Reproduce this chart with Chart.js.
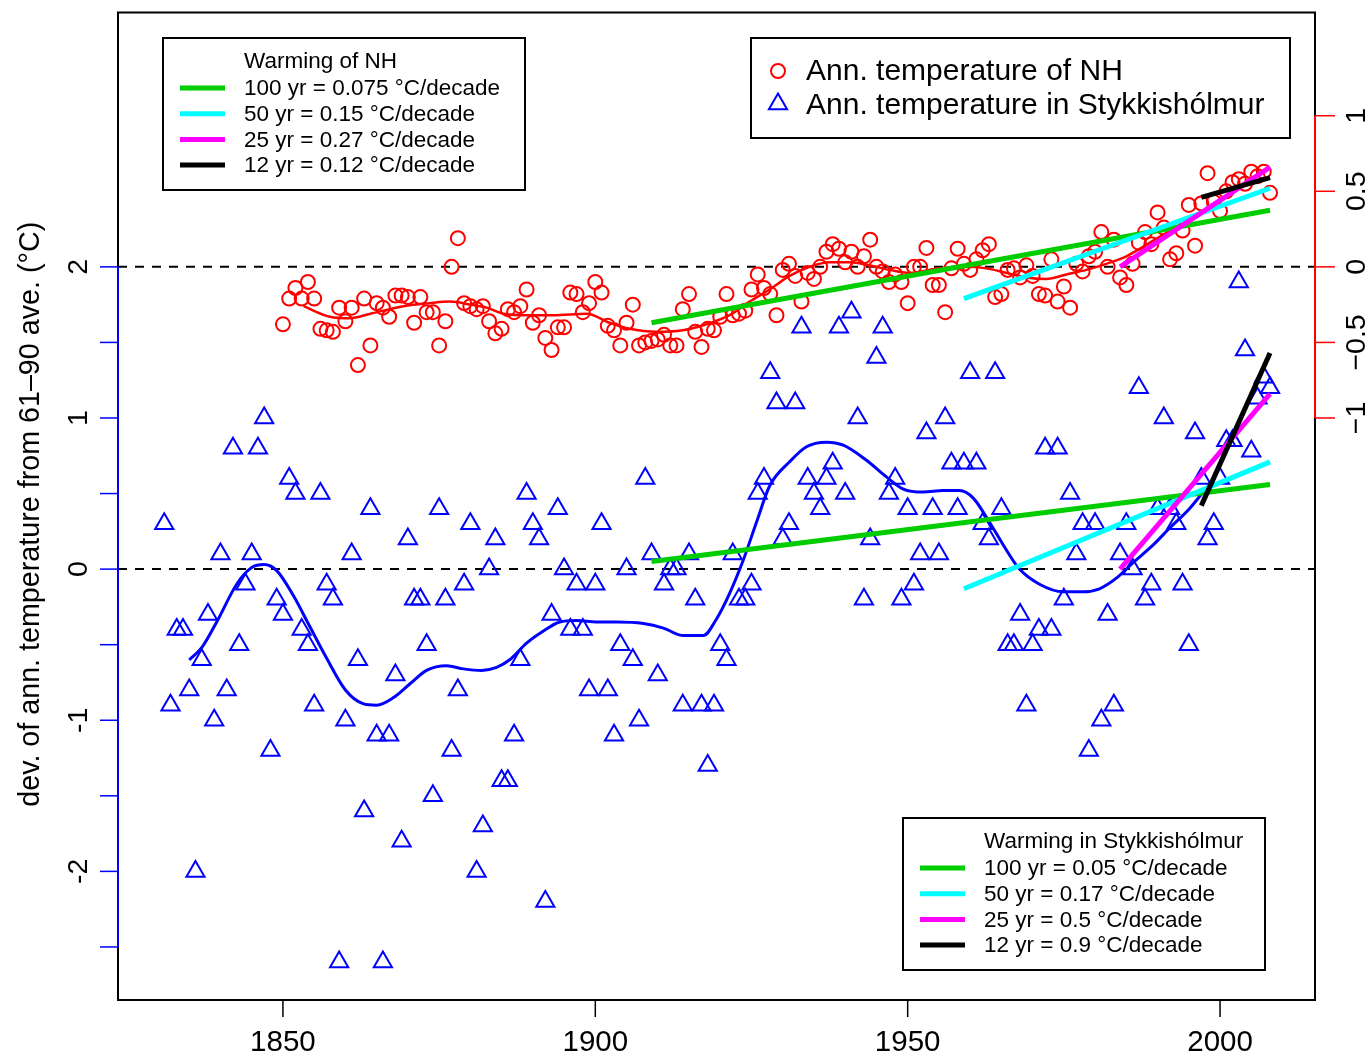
<!DOCTYPE html>
<html><head><meta charset="utf-8">
<script src="https://cdn.jsdelivr.net/npm/chart.js@4"></script>
<style>html,body{margin:0;padding:0;background:#fff}</style>
</head><body>
<canvas id="c" width="1370" height="1058"></canvas>
<script>
// ---------------- DATA ----------------
const nhStartYear = 1850;
const nhValues = [
 -0.38,-0.21,-0.14,-0.21,-0.10,-0.21,-0.41,-0.42,-0.43,-0.27,
 -0.36,-0.27,-0.65,-0.21,-0.52,-0.24,-0.27,-0.33,-0.19,-0.19,
 -0.20,-0.37,-0.20,-0.30,-0.30,-0.52,-0.36,0.00,0.19,-0.24,
 -0.26,-0.28,-0.26,-0.36,-0.44,-0.41,-0.28,-0.30,-0.26,-0.15,
 -0.37,-0.32,-0.47,-0.55,-0.40,-0.40,-0.17,-0.18,-0.30,-0.24,
 -0.10,-0.17,-0.39,-0.42,-0.52,-0.37,-0.25,-0.52,-0.50,-0.49,
 -0.48,-0.45,-0.52,-0.52,-0.28,-0.18,-0.43,-0.53,-0.41,-0.42,
 -0.33,-0.18,-0.32,-0.31,-0.29,-0.15,-0.05,-0.14,-0.18,-0.32,
 -0.02,0.02,-0.06,-0.23,-0.04,-0.08,0.00,0.10,0.15,0.12,
 0.03,0.10,0.00,0.07,0.18,0.00,-0.03,-0.10,-0.05,-0.10,
 -0.24,0.00,0.00,0.125,-0.12,-0.12,-0.30,-0.01,0.12,0.02,
 -0.02,0.05,0.11,0.15,-0.20,-0.18,-0.02,-0.01,-0.07,0.01,
 -0.06,-0.18,-0.19,0.05,-0.23,-0.13,-0.27,0.02,-0.03,0.07,
 0.10,0.23,0.00,0.18,-0.07,-0.12,0.02,0.16,0.23,0.15,
 0.36,0.26,0.05,0.09,0.24,0.41,0.14,0.42,0.62,0.43,
 0.37,0.50,0.56,0.58,0.55,0.63,0.60,0.63,0.49
];
const styStartYear = 1831;
const styValues = [
 0.3,-0.9,-0.4,-0.4,-0.8,-2.0,-0.6,-0.3,-1.0,
 0.1,-0.8,0.8,-0.5,-0.1,0.1,0.8,1.0,-1.2,-0.2,
 -0.3,0.6,0.5,-0.4,-0.5,-0.9,0.5,-0.1,-0.2,-2.6,
 -1.0,0.1,-0.6,-1.6,0.4,-1.1,-2.6,-1.1,-0.7,-1.8,
 0.2,-0.2,-0.2,-0.5,-1.5,0.4,-0.2,-1.2,-0.8,-0.1,
 0.3,-2.0,-1.7,0.0,0.2,-1.4,-1.4,-1.1,-0.6,0.5,
 0.3,0.2,-2.2,-0.3,0.4,0.0,-0.4,-0.1,-0.4,-0.8,
 -0.1,0.3,-0.8,-1.1,-0.5,0.0,-0.6,-1.0,0.6,0.1,
 -0.7,-0.1,0.0,0.0,-0.9,0.1,-0.2,-0.9,-1.3,-0.9,
 -0.5,-0.6,0.1,-0.2,-0.2,-0.1,0.5,0.6,1.3,1.1,
 0.2,0.3,1.1,1.6,0.6,0.5,0.4,0.6,0.7,1.6,
 0.5,1.7,1.0,-0.2,0.2,1.4,1.6,0.5,0.6,-0.2,
 0.4,-0.1,0.1,0.9,0.4,0.1,1.0,0.7,0.4,0.7,
 1.3,0.7,0.3,0.2,1.3,0.4,-0.5,-0.5,-0.3,-0.9,
 -0.5,-0.4,0.8,-0.4,0.8,-0.2,0.5,0.1,0.3,-1.2,
 0.3,-1.0,-0.3,-0.9,0.1,0.3,0.0,1.2,-0.2,-0.1,
 0.4,1.0,0.4,0.3,-0.1,-0.5,0.9,0.6,0.2,0.3,
 0.6,0.85,0.85,1.9,1.45,0.78,1.13,1.27,1.2
];
const nhSmoothYears = [1853.3,1857.5,1860.7,1864,1869.3,1873.5,1876.7,1880,1882.6,1885.3,1889.5,1893.3,1898.6,1902.3,1905.5,1909.8,1914,1917.8,1921.5,1924.7,1927.9,1931.1,1934.3,1937.5,1940.7,1943.9,1947.1,1950.3,1955.1,1959.4,1962.6,1965.8,1969,1972.2,1975.4,1978.6,1981.8,1985,1990,1995,2000,2004];
const nhSmoothValues = [-0.26,-0.33,-0.34,-0.31,-0.26,-0.24,-0.23,-0.25,-0.27,-0.31,-0.32,-0.32,-0.31,-0.37,-0.41,-0.43,-0.42,-0.38,-0.32,-0.23,-0.15,-0.06,0.00,0.03,0.03,0.01,-0.02,-0.04,-0.01,0.00,-0.01,-0.04,-0.07,-0.08,-0.05,-0.02,0.02,0.07,0.19,0.31,0.44,0.54];
const stySmoothYears = [1835,1837,1839.4,1842.6,1845,1847,1849,1851.6,1854.3,1857,1860,1862.8,1865,1867.7,1870.3,1873,1876.2,1878.9,1881.8,1884.2,1886.3,1889,1891.7,1894.3,1897,1900.2,1903.5,1907.7,1910.9,1914.1,1917.3,1919.4,1921.5,1923.6,1925.8,1927.9,1931.1,1933.8,1937,1939.7,1943.4,1946.6,1949.3,1952.5,1955.7,1958.3,1960.5,1963.1,1965.3,1967.9,1971.1,1974.9,1978.1,1980.7,1983.4,1986,1989.3,1991.9,1995.1,1997.3];
const stySmoothValues = [-0.60,-0.52,-0.35,-0.10,0.01,0.03,-0.01,-0.17,-0.38,-0.59,-0.80,-0.89,-0.90,-0.85,-0.76,-0.67,-0.64,-0.66,-0.67,-0.65,-0.60,-0.49,-0.41,-0.35,-0.34,-0.35,-0.35,-0.36,-0.39,-0.44,-0.44,-0.33,-0.16,0.05,0.31,0.55,0.71,0.81,0.84,0.82,0.72,0.61,0.53,0.51,0.52,0.52,0.47,0.31,0.16,0.00,-0.10,-0.15,-0.15,-0.13,-0.06,0.04,0.16,0.27,0.40,0.51];
// trend lines: order 100, 50, 25, 12 yr
const trendColors = ['#00CD00','#00FFFF','#FF00FF','#000000'];
const trendStartYears = [1909,1959,1984,1997];
const trendEndYear = 2008;
const nhTrendStartValues = [-0.37,-0.21,0.00,0.46];
const nhTrendEndValues = [0.375,0.52,0.66,0.59];
const styTrendStartValues = [0.05,-0.13,0.00,0.42];
const styTrendEndValues = [0.56,0.71,1.16,1.43];
const nhLegendTitle = 'Warming of NH';
const nhLegendLabels = ['100 yr = 0.075 °C/decade','50 yr = 0.15 °C/decade','25 yr = 0.27 °C/decade','12 yr = 0.12 °C/decade'];
const styLegendTitle = 'Warming in Stykkishólmur';
const styLegendLabels = ['100 yr = 0.05 °C/decade','50 yr = 0.17 °C/decade','25 yr = 0.5 °C/decade','12 yr = 0.9 °C/decade'];
const seriesLabels = ['Ann. temperature of NH','Ann. temperature in Stykkishólmur'];
const xTicks = [1850,1900,1950,2000];
const leftTicks = [-2.5,-2,-1.5,-1,-0.5,0,0.5,1,1.5,2];
const leftTickLabels = ['','-2','','-1','','0','','1','','2'];
const rightTicks = [-1,-0.5,0,0.5,1];
const rightTickLabels = ['−1','−0.5','0','0.5','1'];
const yTitle = 'dev. of ann. temperature from 61–90 ave. (°C)';
const refZeroLevels = [0];

// ---------------- CHART ----------------
const X_MIN = 1823.6, X_MAX = 2015.2, Y_MIN = -2.851, Y_MAX = 3.683, NH_SHIFT = 2;
const FONT = "'Liberation Sans', Arial, Helvetica, sans-serif";

function seg(years, vals){ return years.map((yr,i)=>({x:yr, y:vals[i]})); }
function trendSet(startVals, endVals, axis){
  const out = [];
  for (let i = 3; i >= 0; i--) {
    out.push({data:[{x:trendStartYears[i],y:startVals[i]},{x:trendEndYear,y:endVals[i]}],
      yAxisID:axis, showLine:true, borderColor:trendColors[i], borderWidth:5, pointRadius:0, borderCapStyle:'butt'});
  }
  return out;
}
const datasets = [
  ...trendSet(nhTrendStartValues, nhTrendEndValues, 'yR'),
  ...trendSet(styTrendStartValues, styTrendEndValues, 'y'),
  {data:seg(nhSmoothYears,nhSmoothValues), yAxisID:'yR', showLine:true, borderColor:'#FF0000', borderWidth:2.5, pointRadius:0, cubicInterpolationMode:'monotone'},
  {data:seg(stySmoothYears,stySmoothValues), yAxisID:'y', showLine:true, borderColor:'#0000FF', borderWidth:3, pointRadius:0, cubicInterpolationMode:'monotone'},
  {data:nhValues.map((v,i)=>({x:nhStartYear+i,y:v})), yAxisID:'yR', showLine:false, pointStyle:'circle', pointRadius:7, pointBorderWidth:2, pointBorderColor:'#FF0000', pointBackgroundColor:'rgba(0,0,0,0)'},
  {data:styValues.map((v,i)=>({x:styStartYear+i,y:v})), yAxisID:'y', showLine:false, pointStyle:'triangle', pointRadius:10.5, pointBorderWidth:2, pointBorderColor:'#0000FF', pointBackgroundColor:'rgba(0,0,0,0)'},
  {data:refZeroLevels.flatMap(v=>[{x:X_MIN,y:v},{x:X_MAX,y:v}]), yAxisID:'y', showLine:true, borderColor:'#000', borderWidth:2, borderDash:[9,8], pointRadius:0},
  {data:refZeroLevels.flatMap(v=>[{x:X_MIN,y:v},{x:X_MAX,y:v}]), yAxisID:'yR', showLine:true, borderColor:'#000', borderWidth:2, borderDash:[9,8], pointRadius:0}
];

const decorPlugin = {
  id:'decor',
  afterDraw(chart){
    const {ctx, chartArea:a, scales:{x, y, yR}} = chart;
    ctx.save();
    // frame
    ctx.strokeStyle = '#000'; ctx.lineWidth = 2;
    ctx.strokeRect(a.left, a.top, a.right-a.left, a.bottom-a.top);
    // left axis (blue)
    ctx.strokeStyle = '#0000FF'; ctx.lineWidth = 2;
    ctx.beginPath();
    ctx.moveTo(a.left, y.getPixelForValue(leftTicks[0]));
    ctx.lineTo(a.left, y.getPixelForValue(leftTicks[leftTicks.length-1]));
    ctx.stroke();
    ctx.lineWidth = 1.5;
    leftTicks.forEach(t=>{const p=y.getPixelForValue(t);ctx.beginPath();ctx.moveTo(a.left,p);ctx.lineTo(a.left-18,p);ctx.stroke();});
    ctx.fillStyle = '#000'; ctx.font = '28.5px '+FONT; ctx.textAlign='center'; ctx.textBaseline='middle';
    leftTicks.forEach((t,i)=>{ if(!leftTickLabels[i]) return; const p=y.getPixelForValue(t);
      ctx.save(); ctx.translate(a.left-39,p); ctx.rotate(-Math.PI/2); ctx.fillText(leftTickLabels[i],0,0); ctx.restore();});
    // right axis (red)
    ctx.strokeStyle = '#FF0000'; ctx.lineWidth = 2;
    ctx.beginPath();
    ctx.moveTo(a.right, yR.getPixelForValue(rightTicks[0]));
    ctx.lineTo(a.right, yR.getPixelForValue(rightTicks[rightTicks.length-1]));
    ctx.stroke();
    ctx.lineWidth = 1.5;
    rightTicks.forEach(t=>{const p=yR.getPixelForValue(t);ctx.beginPath();ctx.moveTo(a.right,p);ctx.lineTo(a.right+20,p);ctx.stroke();});
    rightTicks.forEach((t,i)=>{const p=yR.getPixelForValue(t);
      ctx.save(); ctx.translate(a.right+42,p); ctx.rotate(-Math.PI/2); ctx.fillText(rightTickLabels[i],0,0); ctx.restore();});
    // bottom axis
    ctx.font = '29.5px '+FONT;
    ctx.strokeStyle = '#000'; ctx.lineWidth = 1.5;
    xTicks.forEach(t=>{const p=x.getPixelForValue(t);ctx.beginPath();ctx.moveTo(p,a.bottom);ctx.lineTo(p,a.bottom+17);ctx.stroke();
      ctx.fillText(String(t),p,a.bottom+43);});
    // y title
    ctx.save(); ctx.translate(31,(a.top+a.bottom)/2+8); ctx.rotate(-Math.PI/2);
    ctx.font = '28.7px '+FONT; ctx.fillText(yTitle,0,0); ctx.restore();

    // legends
    function trendLegend(bx, by, bw, bh, title, labels){
      ctx.fillStyle='#fff'; ctx.fillRect(bx,by,bw,bh);
      ctx.strokeStyle='#000'; ctx.lineWidth=2; ctx.strokeRect(bx,by,bw,bh);
      ctx.fillStyle='#000'; ctx.font='22.5px '+FONT; ctx.textAlign='left'; ctx.textBaseline='middle';
      const tx = bx+81;
      ctx.fillText(title, tx, by+24);
      labels.forEach((lab,i)=>{
        const ly = by+50+i*25.7;
        ctx.strokeStyle=trendColors[i]; ctx.lineWidth=5;
        ctx.beginPath(); ctx.moveTo(bx+17,ly); ctx.lineTo(bx+62,ly); ctx.stroke();
        ctx.fillStyle='#000'; ctx.fillText(lab, tx, ly+1);
      });
    }
    trendLegend(163,38,362,152,nhLegendTitle,nhLegendLabels);
    trendLegend(903,818,362,152,styLegendTitle,styLegendLabels);

    // series legend
    const bx=751, by=38, bw=539, bh=100;
    ctx.fillStyle='#fff'; ctx.fillRect(bx,by,bw,bh);
    ctx.strokeStyle='#000'; ctx.lineWidth=2; ctx.strokeRect(bx,by,bw,bh);
    ctx.lineWidth=2; ctx.strokeStyle='#FF0000';
    ctx.beginPath(); ctx.arc(bx+27,by+33,7,0,Math.PI*2); ctx.stroke();
    ctx.strokeStyle='#0000FF';
    const tr=10.5, cx=bx+27, cy=by+66;
    ctx.beginPath();
    for(let k=0;k<3;k++){const ang=k*2*Math.PI/3; const px=cx+Math.sin(ang)*tr, py=cy-Math.cos(ang)*tr; if(k===0)ctx.moveTo(px,py); else ctx.lineTo(px,py);}
    ctx.closePath(); ctx.stroke();
    ctx.fillStyle='#000'; ctx.font='30px '+FONT; ctx.textAlign='left'; ctx.textBaseline='middle';
    ctx.fillText(seriesLabels[0], bx+55, by+34);
    ctx.fillText(seriesLabels[1], bx+55, by+68);
    ctx.restore();
  }
};

new Chart(document.getElementById('c'), {
  type:'scatter',
  data:{datasets},
  options:{
    responsive:false, animation:false, events:[],
    layout:{padding:{left:118,right:55,top:10,bottom:58}},
    plugins:{legend:{display:false}, tooltip:{enabled:false}},
    scales:{
      x:{type:'linear', min:X_MIN, max:X_MAX, display:false},
      y:{type:'linear', min:Y_MIN, max:Y_MAX, display:false},
      yR:{type:'linear', min:Y_MIN-NH_SHIFT, max:Y_MAX-NH_SHIFT, display:false}
    }
  },
  plugins:[decorPlugin]
});
</script>
</body></html>
